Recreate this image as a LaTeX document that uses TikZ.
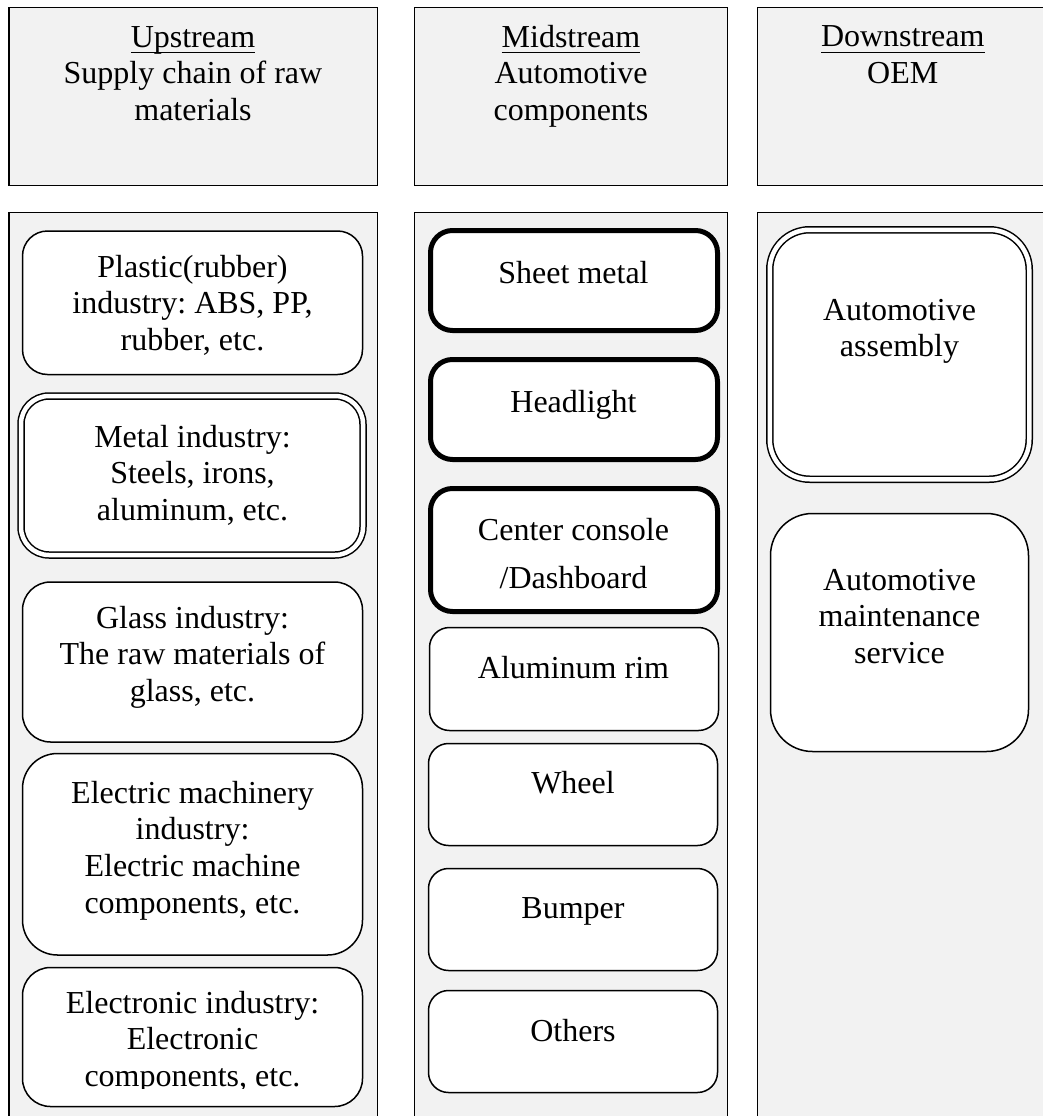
\documentclass[tikz,border=0pt]{standalone}
\usepackage{fontspec}
\setmainfont{Liberation Serif}
\frenchspacing
\definecolor{panelgray}{HTML}{F2F2F2}
\newcommand\myfs{\fontsize{32}{36.8}\selectfont}
\newcommand\myfsw{\fontsize{32}{48}\selectfont}
\newcommand\myul[1]{\setbox0=\hbox{#1}\rlap{\rule[-6pt]{\wd0}{1.5pt}}\box0}
\newcommand\bx[6]{\node[#1, minimum width={(#5-#3)*1pt}, minimum height={(#6-#4)*1pt}] (#2) at ({(#3+#5)/2},{(#4+#6)/2}) {};}
\tikzset{
  panel/.style={draw=black, line width=1.5pt, fill=panelgray, rectangle, inner sep=0pt, outer sep=0pt},
  thinbox/.style={draw=black, line width=1.5pt, fill=white, rectangle, inner sep=0pt, outer sep=0pt},
  thickbox/.style={draw=black, line width=5pt, fill=white, rectangle, inner sep=0pt, outer sep=0pt},
  dblbox/.style={draw=black, line width=1.5pt, double=white, double distance=4.5pt, fill=white, rectangle, inner sep=0pt, outer sep=0pt},
  txt/.style={anchor=north, inner sep=0pt, outer sep=0pt, align=center, font=\myfs, text=black},
}
\begin{document}
\begin{tikzpicture}[x=1pt, y=-1pt]
\useasboundingbox (0,0) rectangle (1043,1116);
\clip (0,0) rectangle (1043,1116);
\fill[white] (0,0) rectangle (1043,1116);

% headers
\bx{panel}{hup}{9}{7.5}{377.5}{185.5}
\bx{panel}{hmid}{414.5}{7.5}{727.5}{185.5}
\bx{panel}{hdown}{757.5}{7.5}{1048}{185.5}
\node[txt] (hupT) at (193,21.24) {\strut\myul{Upstream}\\Supply chain of raw\\materials};
\node[txt] (hmidT) at (571,21.24) {\strut\myul{Midstream}\\Automotive\\components};
\node[txt] (hdownT) at (902.75,21.24) {\strut\myul{Downstream}\\OEM};

% panels
\bx{panel}{pup}{9}{212.5}{377.5}{1140}
\bx{panel}{pmid}{414.5}{212.5}{727.5}{1140}
\bx{panel}{pdown}{757.5}{212.5}{1048}{1140}

% upstream boxes
\bx{thinbox, rounded corners=25pt}{plastic}{22.5}{231}{362.5}{374.5}
\bx{dblbox, rounded corners=28pt}{metal}{21}{396}{363}{555}
\bx{thinbox, rounded corners=28pt}{glass}{22.5}{582}{362.5}{742}
\bx{thinbox, rounded corners=35pt}{elecm}{22.5}{753.5}{362.5}{955}
\bx{thinbox, rounded corners=28pt}{electron}{22.5}{967.5}{362.5}{1106.5}
\node[txt] (plasticT) at (192.5,251.24) {\strut Plastic(rubber)\\industry: ABS, PP,\\rubber, etc.};
\node[txt] (metalT) at (192.5,421.24) {\strut Metal industry:\\Steels, irons,\\aluminum, etc.};
\node[txt] (glassT) at (192.5,602.24) {\strut Glass industry:\\The raw materials of\\glass, etc.};
\node[txt] (elecmT) at (192.5,777.24) {\strut Electric machinery\\industry:\\Electric machine\\components, etc.};
\begin{scope}
\clip (0,0) rectangle (1043,1088.5);
\node[txt] (electronT) at (192.5,987.24) {\strut Electronic industry:\\Electronic\\components, etc.};
\end{scope}

% midstream boxes
\bx{thickbox, rounded corners=22pt}{sheet}{430.5}{230.5}{717.5}{330.5}
\bx{thickbox, rounded corners=22pt}{head}{430.5}{359.5}{717.5}{459.5}
\bx{thickbox, rounded corners=22pt}{console}{430.5}{488.5}{717.5}{611.5}
\bx{thinbox, rounded corners=20pt}{alum}{429.5}{627.5}{718.5}{730.5}
\bx{thinbox, rounded corners=20pt}{wheel}{428.5}{743.5}{717.5}{845.5}
\bx{thinbox, rounded corners=20pt}{bumper}{428.5}{868.5}{717.5}{970.5}
\bx{thinbox, rounded corners=20pt}{others}{428.5}{990.5}{717.5}{1092.5}
\node[txt] (sheetT) at (573.5,257.24) {\strut Sheet metal};
\node[txt] (headT) at (573.5,386.24) {\strut Headlight};
\node[txt, font=\myfsw] (consoleT) at (573.5,506.4) {\strut Center console\\/Dashboard};
\node[txt] (alumT) at (573.5,652.24) {\strut Aluminum rim};
\node[txt] (wheelT) at (573,767.24) {\strut Wheel};
\node[txt] (bumperT) at (573,892.24) {\strut Bumper};
\node[txt] (othersT) at (573,1015.24) {\strut Others};

% downstream boxes
\bx{dblbox, rounded corners=40pt}{assem}{769.75}{229.75}{1029.25}{479.25}
\bx{thinbox, rounded corners=42pt}{maint}{770.5}{513.5}{1028.5}{751.5}
\node[txt] (assemT) at (899.5,294.24) {\strut Automotive\\assembly};
\node[txt] (maintT) at (899.5,564.24) {\strut Automotive\\maintenance\\service};
\end{tikzpicture}
\end{document}
